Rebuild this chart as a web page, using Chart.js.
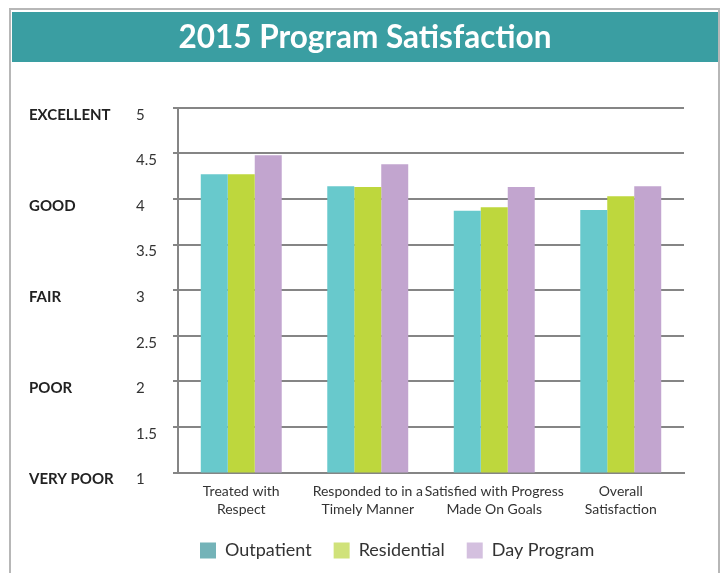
<!DOCTYPE html>
<html><head><meta charset="utf-8">
<script src="https://cdn.jsdelivr.net/npm/chart.js@4"></script>
<style>html,body{margin:0;padding:0;background:#fff}#wrap{width:723px;height:573px;position:relative}canvas{display:block}</style>
</head><body><div id="wrap"><canvas id="c" width="723" height="573"></canvas></div>
<script>
const categories = [["Treated with","Respect"],["Responded to in a","Timely Manner"],["Satisfied with Progress","Made On Goals"],["Overall","Satisfaction"]];
const seriesNames = ["Outpatient","Residential","Day Program"];
const outpatient = [4.27, 4.14, 3.87, 3.88];
const residential = [4.27, 4.13, 3.91, 4.03];
const dayProgram = [4.48, 4.38, 4.13, 4.14];
const barColors = ["#68C9CC","#BED73D","#C2A5CF"];
const legendColors = ["#74B3B8","#D0E27A","#D4C0DF"];
const yTickValues = [1, 1.5, 2, 2.5, 3, 3.5, 4, 4.5, 5];
const ratingLabels = {1:"VERY POOR", 2:"POOR", 3:"FAIR", 4:"GOOD", 5:"EXCELLENT"};
const titleText = "2015 Program Satisfaction";

const frameAndBand = {
  id: 'frameAndBand',
  beforeDraw(chart) {
    const ctx = chart.ctx;
    ctx.save();
    ctx.fillStyle = '#fff';
    ctx.fillRect(0, 0, chart.width, chart.height);
    ctx.strokeStyle = '#b7b7b7';
    ctx.lineWidth = 2;
    ctx.beginPath();
    ctx.moveTo(10, chart.height + 5);
    ctx.lineTo(10, 9);
    ctx.lineTo(719, 9);
    ctx.lineTo(719, chart.height + 5);
    ctx.stroke();
    const tb = chart.titleBlock;
    ctx.fillStyle = '#3A9EA2';
    ctx.fillRect(12, tb.top, 706, 50);
    ctx.restore();
  }
};

const datasets = [outpatient, residential, dayProgram].map((d, i) => ({
  label: seriesNames[i],
  data: d,
  backgroundColor: barColors[i],
  borderWidth: 0,
  barPercentage: 1,
  categoryPercentage: 0.64
}));

new Chart(document.getElementById('c'), {
  type: 'bar',
  data: { labels: categories, datasets },
  plugins: [frameAndBand],
  options: {
    responsive: false,
    animation: false,
    devicePixelRatio: 1,
    layout: { padding: { left: 29, right: 22, top: 12, bottom: 3.5 } },
    plugins: {
      title: {
        display: true,
        text: titleText,
        color: '#ffffff',
        font: { family: 'Lato', size: 31.5, weight: 'bold' },
        padding: { top: 7, bottom: 51 }
      },
      legend: {
        position: 'bottom',
        align: 'start',
        fullSize: false,
        labels: {
          font: { family: 'Lato', size: 18 },
          color: '#333333',
          boxWidth: 16,
          boxHeight: 16,
          padding: 22,
          generateLabels(chart) {
            return chart.data.datasets.map((ds, i) => ({
              text: ds.label,
              fillStyle: legendColors[i],
              strokeStyle: legendColors[i],
              lineWidth: 0,
              fontColor: '#333333',
              datasetIndex: i,
              hidden: false
            }));
          }
        }
      },
      tooltip: { enabled: false }
    },
    scales: {
      x: {
        type: 'category',
        offset: true,
        grid: { display: false },
        border: { display: true, color: '#858585', width: 2 },
        ticks: {
          font: { family: 'Lato', size: 14, lineHeight: 1.3 },
          color: '#333333',
          maxRotation: 0,
          autoSkip: false,
          padding: 2
        },
        afterFit(s) { s.height = 47; }
      },
      y: {
        type: 'linear',
        position: 'left',
        weight: 0,
        min: 1,
        max: 5,
        afterBuildTicks(s) { s.ticks = yTickValues.map(v => ({ value: v })); },
        ticks: {
          font: { family: 'Lato', size: 15 },
          color: '#333333',
          crossAlign: 'far',
          labelOffset: 7,
          callback: v => String(v)
        },
        grid: { color: '#858585', lineWidth: 2, tickLength: 5 },
        border: { display: true, color: '#858585', width: 2 },
        afterFit(s) { s.width = 42; }
      },
      words: {
        type: 'linear',
        position: 'left',
        weight: 10,
        min: 1,
        max: 5,
        afterBuildTicks(s) { s.ticks = Object.keys(ratingLabels).map(k => ({ value: Number(k) })); },
        ticks: {
          font: { family: 'Lato', size: 15, weight: 'bold' },
          color: '#222222',
          crossAlign: 'far',
          labelOffset: 7,
          callback: v => ratingLabels[v] || ''
        },
        grid: { display: false },
        border: { display: false },
        afterFit(s) { s.width = 107; }
      },
      spacer: {
        type: 'linear',
        position: 'right',
        grid: { display: false },
        border: { display: false },
        ticks: { display: false },
        afterFit(s) { s.width = 17; }
      }
    }
  }
});
</script>
</body></html>
